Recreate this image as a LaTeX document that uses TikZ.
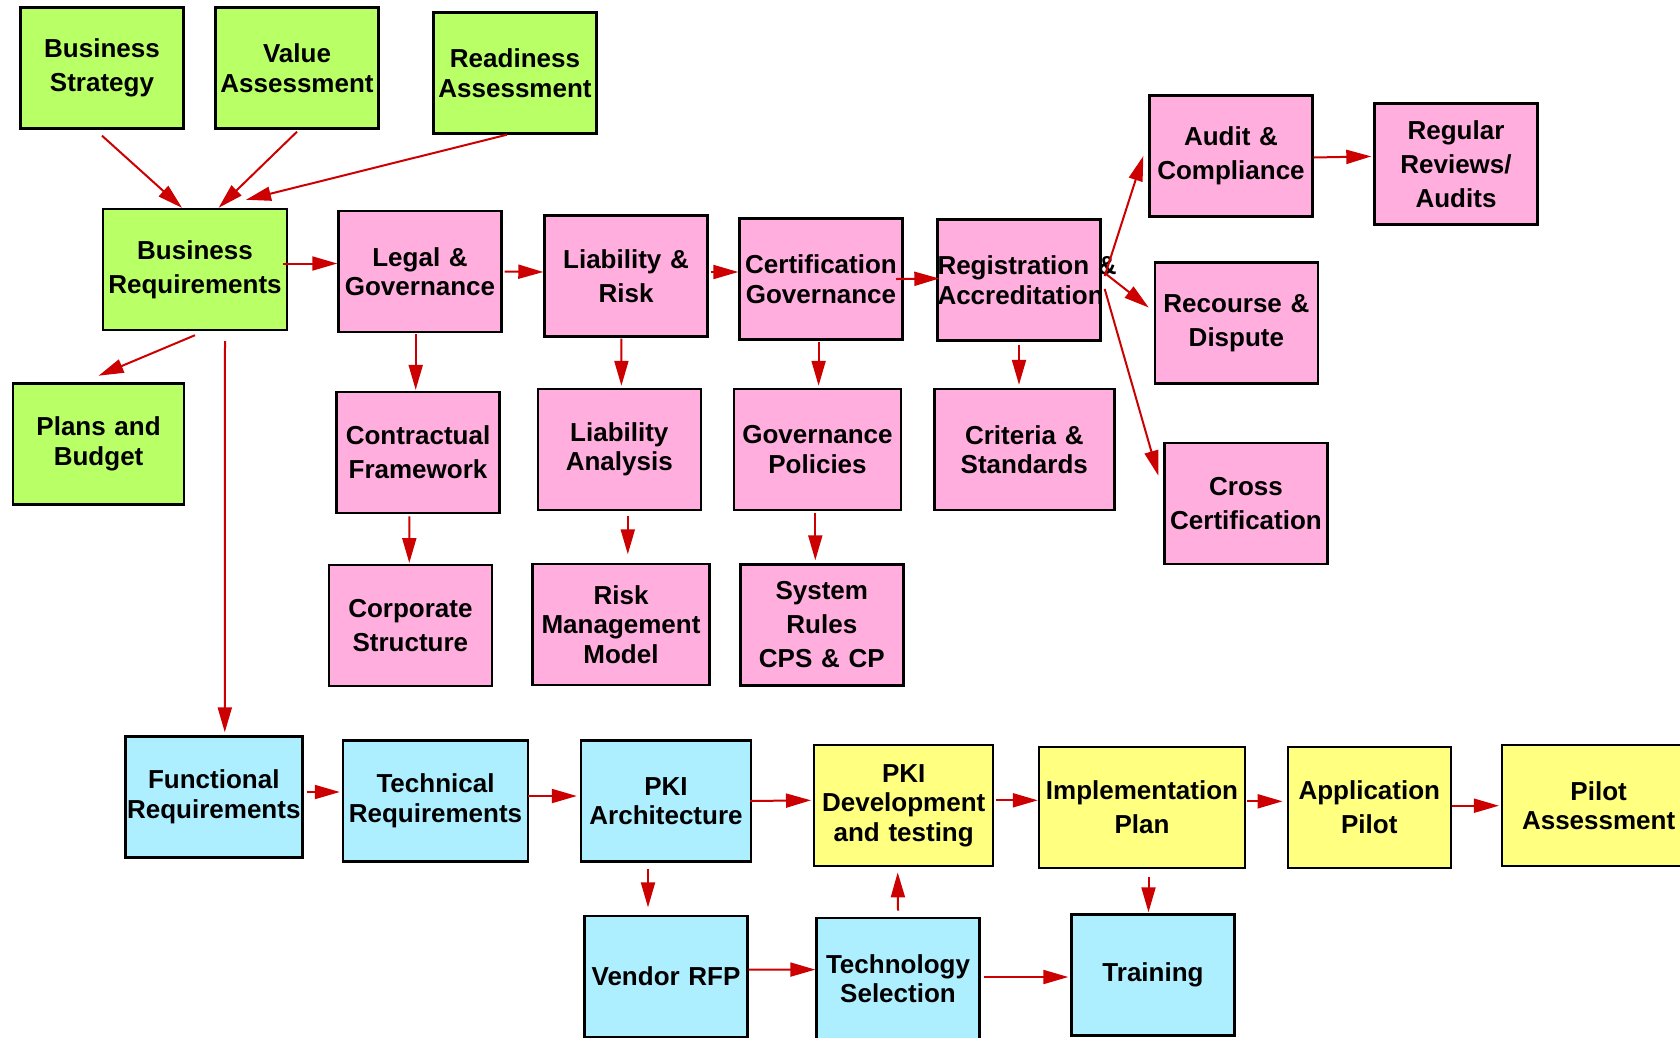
\documentclass[tikz,border=0pt]{standalone}
\usepackage{fontspec}
\setmainfont{Liberation Sans}
\usepackage{tikz}
\usetikzlibrary{arrows.meta}
\definecolor{bizgreen}{RGB}{185,255,102}
\definecolor{legalpink}{RGB}{255,174,222}
\definecolor{techcyan}{RGB}{174,239,255}
\definecolor{pilotyellow}{RGB}{255,255,128}
\definecolor{arrowred}{RGB}{204,0,0}

\begin{document}
\begin{tikzpicture}[x=1pt, y=-1pt,
  box/.style={draw=black, line width=2.4pt, inner sep=0pt, align=center,
    text width=163pt, minimum height=121pt,
    font=\fontsize{26}{34}\selectfont\bfseries},
  bizbox/.style={box, fill=bizgreen},
  legalbox/.style={box, fill=legalpink},
  techbox/.style={box, fill=techcyan},
  pilotbox/.style={box, fill=pilotyellow},
  tight/.style={font=\fontsize{26}{29.5}\selectfont\bfseries},
  flow/.style={draw=arrowred, line width=2pt, -{Triangle[length=25pt,width=14pt]}}]
\useasboundingbox (0,0) rectangle (1680,1037);
\fill[white] (0,0) rectangle (1680,1037);
\clip (0,0) rectangle (1680,1037);

% business side
\node[bizbox] (bstrat) at (102,68) {Business\\Strategy};
\node[bizbox, tight] (valueA) at (297,68) {Value\\Assessment};
\node[bizbox, tight] (readyA) at (515,73) {Readiness\\Assessment};
\node[bizbox, text width=184pt] (bizreq) at (195,269.5) {Business\\Requirements};
\node[bizbox, tight, text width=171pt] (plans) at (98.6,444) {Plans and\\Budget};

% legal side
\node[legalbox, tight] (legal) at (420,271.5) {Legal \&\\Governance};
\node[legalbox] (liab) at (626,276) {Liability \&\\Risk};
\node[legalbox, tight] (certgov) at (821,279) {Certification\\Governance};
\node[legalbox, tight] (regacc) at (1019,280) {Registration~\&\\Accreditation};
\node[legalbox] (audit) at (1231,156) {Audit \&\\Compliance};
\node[legalbox] (regular) at (1456,164) {Regular\\Reviews/\\Audits};
\node[legalbox] (recourse) at (1236.4,323) {Recourse \&\\Dispute};
\node[legalbox] (cross) at (1246,503.6) {Cross\\Certification};
\node[legalbox] (contract) at (418,452.6) {Contractual\\Framework};
\node[legalbox, tight] (liabAn) at (619.3,449.5) {Liability\\Analysis};
\node[legalbox, tight, text width=167pt] (govpol) at (817.5,449.5) {Governance\\Policies};
\node[legalbox, tight, text width=180pt] (criteria) at (1024.3,449.5) {Criteria \&\\Standards};
\node[legalbox] (corp) at (410.4,625.7) {Corporate\\Structure};
\node[legalbox, tight, text width=177pt] (riskMM) at (621,624.6) {Risk\\Management\\Model};
\node[legalbox] (sysrules) at (821.8,625) {System\\Rules\\CPS \& CP};

% technical side
\node[techbox, tight, text width=177pt] (funcreq) at (213.8,797) {Functional\\Requirements};
\node[techbox, tight, text width=185pt] (techreq) at (435.5,801) {Technical\\Requirements};
\node[techbox, tight, text width=170pt] (pkiarch) at (666,801) {PKI\\Architecture};
\node[techbox] (vendor) at (666,976.5) {Vendor RFP};
\node[techbox, tight] (techsel) at (898,978.6) {Technology\\Selection};
\node[techbox] (training) at (1153,975) {Training};

% pilot side
\node[pilotbox, tight, text width=179pt] (pkidev) at (903.7,805.7) {PKI\\Development\\and testing};
\node[pilotbox, text width=206pt] (implplan) at (1142,807.3) {Implementation\\Plan};
\node[pilotbox] (apppilot) at (1369.3,807.3) {Application\\Pilot};
\node[pilotbox, tight, text width=193pt] (pilotA) at (1598.6,805.7) {Pilot\\Assessment};

% connectors
\draw[flow] ([yshift=-6pt]bstrat.south) -- ([xshift=-13pt]bizreq.north);
\draw[flow] ([yshift=-2pt]valueA.south) -- ([xshift=23.6pt]bizreq.north);
\draw[flow] ([xshift=-8pt]readyA.south) -- ([xshift=51pt,yshift=8pt]bizreq.north);
\draw[flow] ([xshift=-5pt,yshift=6pt]bizreq.east) -- ([yshift=8pt]legal.west);
\draw[flow] ([yshift=-4pt]bizreq.south) -- ([yshift=6.6pt]plans.north);
\draw[flow] ([xshift=30pt,yshift=-10pt]bizreq.south) -- ([xshift=11pt,yshift=3pt]funcreq.north);

\draw[flow] ([xshift=2pt]legal.east) -- ([yshift=4pt]liab.west);
\draw[flow] ([xshift=2pt,yshift=4pt]liab.east) -- ([yshift=7pt]certgov.west);
\draw[flow] ([xshift=-7.5pt]certgov.east) -- ([xshift=3pt,yshift=1.5pt]regacc.west);
\draw[flow] ([xshift=3pt,yshift=4pt]regacc.east) -- ([xshift=-5pt]audit.west);
\draw[flow] ([xshift=3pt,yshift=7pt]regacc.east) -- ([xshift=-5pt,yshift=15.5pt]recourse.west);
\draw[flow] ([xshift=3pt,yshift=-9pt]regacc.east) -- ([xshift=-5pt,yshift=28pt]cross.west);
\draw[flow] ([yshift=-1.5pt]audit.east) -- ([xshift=-2pt,yshift=7.6pt]regular.west);

\draw[flow] ([xshift=-4.3pt,yshift=-1pt]legal.south) -- ([xshift=-2.3pt,yshift=1pt]contract.north);
\draw[flow] ([xshift=-4.6pt,yshift=-1pt]liab.south) -- ([xshift=2.1pt,yshift=2pt]liabAn.north);
\draw[flow] ([xshift=-2.4pt,yshift=-1pt]certgov.south) -- ([xshift=1.1pt,yshift=2pt]govpol.north);
\draw[flow] ([yshift=-3pt]regacc.south) -- ([xshift=-5.3pt,yshift=3pt]criteria.north);
\draw[flow] ([xshift=-8.7pt,yshift=-2pt]contract.south) -- ([xshift=-1.1pt,yshift=1pt]corp.north);
\draw[flow] ([xshift=8.5pt,yshift=-5pt]liabAn.south) -- ([xshift=6.8pt,yshift=8.6pt]riskMM.north);
\draw[flow] ([xshift=-2.2pt,yshift=-2pt]govpol.south) -- ([xshift=-6.5pt,yshift=3pt]sysrules.north);

\draw[flow] ([xshift=3pt,yshift=5pt]funcreq.east) -- ([xshift=-2pt,yshift=9pt]techreq.west);
\draw[flow] ([xshift=-1pt,yshift=5pt]techreq.east) -- ([xshift=-3pt,yshift=5pt]pkiarch.west);
\draw[flow] ([xshift=-2pt]pkiarch.east) -- ([xshift=-2pt,yshift=5.4pt]pkidev.west);
\draw[flow] ([xshift=-18pt,yshift=-6pt]pkiarch.south) -- ([xshift=-18pt,yshift=7.4pt]vendor.north);
\draw[flow] ([xshift=2pt,yshift=5.4pt]pkidev.east) -- ([yshift=7pt]implplan.west);
\draw[flow] ([xshift=1pt,yshift=6pt]implplan.east) -- ([xshift=-4pt,yshift=6pt]apppilot.west);
\draw[flow] ([yshift=1.6pt]apppilot.east) -- ([xshift=-2pt]pilotA.west);
\draw[flow] ([xshift=6.5pt,yshift=-7.5pt]implplan.south) -- ([xshift=-4.5pt,yshift=1pt]training.north);
\draw[flow] ([yshift=6.4pt]techsel.north) -- ([xshift=-6pt,yshift=-5pt]pkidev.south);
\draw[flow] ([yshift=7pt]vendor.east) -- ([yshift=9pt]techsel.west);
\draw[flow] ([xshift=3pt,yshift=1.6pt]techsel.east) -- ([xshift=-2pt,yshift=-2pt]training.west);
\end{tikzpicture}
\end{document}
